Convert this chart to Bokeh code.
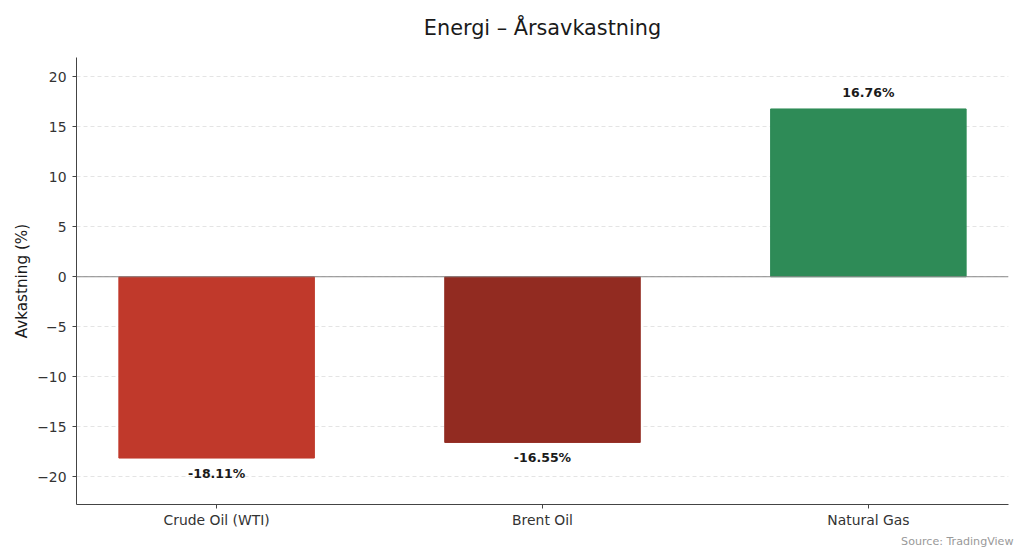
from bokeh.plotting import figure
from bokeh.models import ColumnDataSource, Range1d, FixedTicker, Span, Title
from bokeh.core.properties import value
from bokeh.embed import file_html
from bokeh.resources import INLINE

categories = ["Crude Oil (WTI)", "Brent Oil", "Natural Gas"]
returns = [-18.11, -16.55, 16.76]
colors = ["#c0392b", "#922b21", "#2e8b57"]
y_ticks = [-20, -15, -10, -5, 0, 5, 10, 15, 20]

FONT = "DejaVu Sans"

xs = list(range(len(categories)))
labels = [f"{v:.2f}%" for v in returns]
offs = [-16 if v >= 0 else 15 for v in returns]

src = ColumnDataSource(dict(x=xs, top=returns, color=colors, label=labels, off=offs))

p = figure(width=1024, height=559, output_backend="svg", toolbar_location=None,
           x_range=Range1d(-0.43, 2.43), y_range=Range1d(-22.75, 21.9),
           min_border_left=76, min_border_right=16, min_border_top=57, min_border_bottom=55)

# spacer between the title and the plot frame
p.add_layout(Title(text=" ", text_font_size="1px", standoff=10), "above")

p.title.text = "Energi – Årsavkastning"
p.title.text_font = FONT
p.title.text_font_size = "20.8px"
p.title.text_font_style = "normal"
p.title.text_color = "#1a1a1a"
p.title.align = "center"
p.title.standoff = 10

p.outline_line_color = None
p.background_fill_color = "white"
p.border_fill_color = "white"

p.xgrid.visible = False
p.ygrid.ticker = FixedTicker(ticks=y_ticks)
p.ygrid.grid_line_color = "#dddddd"
p.ygrid.grid_line_dash = "4 3"
p.ygrid.grid_line_width = 0.8

p.vbar(x="x", top="top", bottom=0, width=0.6, color="color", source=src)

p.add_layout(Span(location=0, dimension="width", line_color="#888888", line_width=1))

p.text(x="x", y="top", text="label", y_offset="off", source=src,
       text_align="center", text_baseline="middle",
       text_font=value(FONT), text_font_size="12.5px", text_font_style="bold",
       text_color="#1a1a1a")

# axes
p.xaxis.ticker = FixedTicker(ticks=xs)
p.xaxis.major_label_overrides = {i: c for i, c in zip(xs, categories)}
p.yaxis.ticker = FixedTicker(ticks=y_ticks)
p.yaxis.major_label_overrides = {t: (str(t).replace("-", "\u2212")) for t in y_ticks}
p.yaxis.axis_label = "Avkastning (%)"

for ax in (p.xaxis, p.yaxis):
    ax.major_label_text_font = FONT
    ax.major_label_text_font_size = "13.9px"
    ax.major_label_text_color = "#333333"
    ax.axis_line_color = "#444444"
    ax.major_tick_line_color = "#444444"
    ax.major_tick_out = 4
    ax.major_tick_in = 0
    ax.minor_tick_out = 0
    ax.minor_tick_in = 0

p.xaxis.major_label_standoff = 3
p.yaxis.major_label_standoff = 6

p.yaxis.axis_label_text_font = FONT
p.yaxis.axis_label_text_font_size = "15.2px"
p.yaxis.axis_label_text_font_style = "normal"
p.yaxis.axis_label_text_color = "#1a1a1a"
p.yaxis.axis_label_standoff = 3

src_title = Title(text="Source: TradingView", align="right", text_font=FONT,
                  text_font_size="11.1px", text_font_style="normal",
                  text_color="#999999", offset=-5, standoff=4)
p.add_layout(src_title, "below")

open("out.html", "w").write(file_html(p, INLINE))
